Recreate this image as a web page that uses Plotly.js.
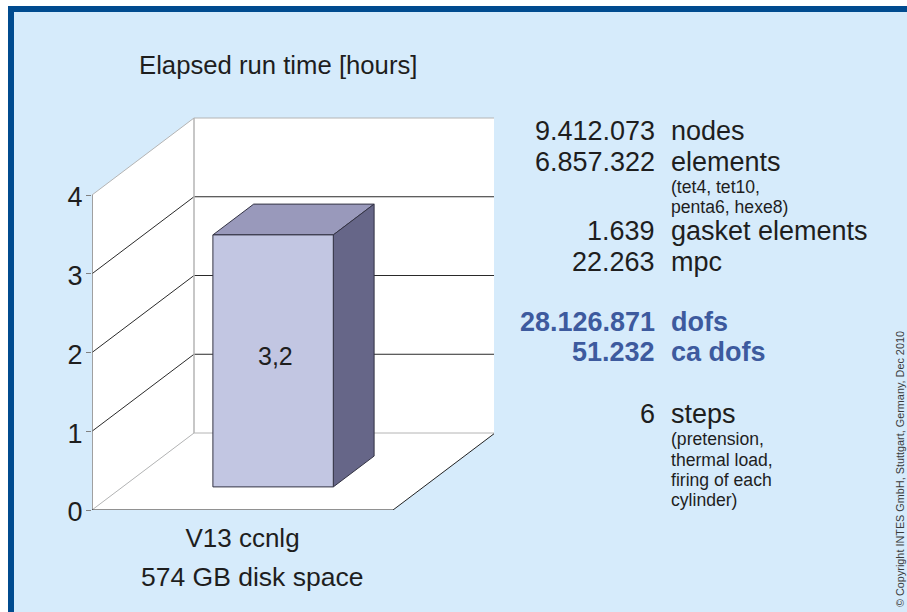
<!DOCTYPE html>
<html><head><meta charset="utf-8">
<script src="https://cdn.plot.ly/plotly-3.0.1.min.js"></script>
<style>html,body{margin:0;padding:0;background:#fff}#c{width:907px;height:612px}</style>
</head><body><div id="c"></div>
<script>
// ---- data ----
var categories = ['V13 ccnlg'];
var categoryNote = '574 GB disk space';
var values = [3.2];
var valueLabels = ['3,2'];
var yTicks = [0, 1, 2, 3, 4];
var statNumbers = ['9.412.073', '6.857.322', '1.639', '22.263'];
var statNames = ['nodes', 'elements', 'gasket elements', 'mpc'];
var dofNumbers = ['28.126.871', '51.232'];
var dofNames = ['dofs', 'ca dofs'];
var stepNumbers = ['6'];
var stepNames = ['steps'];
var elementNotes = ['(tet4, tet10,', 'penta6, hexe8)'];
var stepNotes = ['(pretension,', 'thermal load,', 'firing of each', 'cylinder)'];

// ---- page geometry ----
var W = 907, H = 612;
var m = {l: 92, r: 413, t: 117, b: 102};
var pw = W - m.l - m.r, ph = H - m.t - m.b;
var unitX = 301, unitY = 78.75;          // px per x unit / per value
var depthX = 102 / unitX, depthY = 77 / unitY;  // oblique projection of the depth axis
function px(v) { return (v - m.l) / pw; }
function py(v) { return 1 - (v - m.t) / ph; }
function P(x, y, z) { return [x + z * depthX, y + z * depthY]; }
function poly(pts, fill, line, lw) {
  var q = pts.map(function (p) { return P(p[0], p[1], p[2]); });
  return {type: 'scatter', mode: line ? 'lines' : 'none', x: q.map(function (a) { return a[0]; }),
    y: q.map(function (a) { return a[1]; }), fill: fill ? 'toself' : 'none', fillcolor: fill || undefined,
    line: {color: line || 'rgba(0,0,0,0)', width: lw || 1}, hoverinfo: 'skip', showlegend: false, cliponaxis: false};
}
var top4 = 4;
var traces = [];
// walls and floor
traces.push(poly([[0,0,1],[1,0,1],[1,top4,1],[0,top4,1],[0,0,1]], '#ffffff'));
traces.push(poly([[0,0,0],[0,0,1],[0,top4,1],[0,top4,0],[0,0,0]], '#ffffff'));
traces.push(poly([[0,0,0],[1,0,0],[1,0,1],[0,0,1],[0,0,0]], '#ffffff'));
// grid
yTicks.forEach(function (t) {
  var edge = (t === 0 || t === 4);
  traces.push(poly([[0,t,0],[0,t,1],[1,t,1]], null, edge ? '#b4b4b4' : '#2a2a2a', 1));
});
traces.push(poly([[0,0,1],[0,4,1]], null, '#b4b4b4', 1.5));
traces.push(poly([[1,0,1],[1,4,1]], null, '#b4b4b4', 1));
traces.push(poly([[0,0,0],[0,4,0]], null, '#808080', 1.5));
traces.push(poly([[0,0,0],[1,0,0]], null, '#222222', 1));
traces.push(poly([[1,0,0],[1,0,1]], null, '#222222', 1));
// x ticks
traces.push(poly([[0,0,0],[0,-0.07,0]], null, '#808080', 1));
traces.push(poly([[1,0,0],[1,-0.07,0]], null, '#808080', 1));
// bar
var x0 = 0.30, x1 = 0.70, z0 = 0.30, z1 = 0.70, v = values[0];
var edge = '#333344';
traces.push(poly([[x0,v,z0],[x1,v,z0],[x1,v,z1],[x0,v,z1],[x0,v,z0]], '#9999bb', edge, 1));
traces.push(poly([[x1,0,z0],[x1,0,z1],[x1,v,z1],[x1,v,z0],[x1,0,z0]], '#666688', edge, 1));
traces.push(poly([[x0,0,z0],[x1,0,z0],[x1,v,z0],[x0,v,z0],[x0,0,z0]], '#c2c6e2', edge, 1));

var ink = '#1e1e1e', blue = '#3d5a9e', font = 'Liberation Sans, Arial, sans-serif';
var ann = [];
var numX = 657, nameX = 669;
function note(xp, yp, text, size, color, anchor, weight) {
  ann.push({xref: 'paper', yref: 'paper', x: px(xp), y: py(yp), text: text, showarrow: false,
    xanchor: anchor, yanchor: 'middle', align: anchor === 'right' ? 'right' : 'left',
    font: {family: font, size: size, color: color, weight: weight || 400}});
}
var valPt = P(0.5, values[0] * 0.5, z0);
ann.push({xref: 'x', yref: 'y', x: valPt[0], y: valPt[1], text: valueLabels[0], showarrow: false,
  font: {family: font, size: 25, color: ink}, xanchor: 'center', yanchor: 'middle', xshift: 2, yshift: 5});
note(252, 577, categoryNote, 26.5, ink, 'center');
var statY = [131, 162, 231, 262];
statNumbers.forEach(function (s, i) { note(numX, statY[i], s, 27, ink, 'right'); note(nameX, statY[i], statNames[i], 27, ink, 'left'); });
var elY = [187, 207];
elementNotes.forEach(function (s, i) { note(nameX, elY[i], s, 17.6, ink, 'left'); });
var dofY = [322, 352];
dofNumbers.forEach(function (s, i) { note(numX, dofY[i], s, 27, blue, 'right', 700); note(nameX, dofY[i], dofNames[i], 27, blue, 'left', 700); });
note(numX, 414, stepNumbers[0], 27, ink, 'right'); note(nameX, 414, stepNames[0], 27, ink, 'left');
var stY = [439, 459.5, 480, 500];
stepNotes.forEach(function (s, i) { note(nameX, stY[i], s, 17.6, ink, 'left'); });
ann.push({xref: 'paper', yref: 'paper', x: px(892), y: py(609), text: '© Copyright INTES GmbH, Stuttgart, Germany, Dec 2010',
  textangle: -90, showarrow: false, xanchor: 'left', yanchor: 'bottom', font: {family: font, size: 10.85, color: '#3a3a3a'}});

var layout = {
  width: W, height: H, margin: m, autosize: false, showlegend: false,
  paper_bgcolor: '#ffffff', plot_bgcolor: 'rgba(0,0,0,0)',
  title: {text: 'Elapsed run time [hours]', x: px(139) , xref: 'paper', xanchor: 'left', y: 1 - 65 / H, yanchor: 'middle',
    font: {family: font, size: 25.7, color: ink}},
  xaxis: {range: [0, pw / unitX], showgrid: false, zeroline: false, showline: false, ticks: '',
    tickmode: 'array', tickvals: [0.5], ticktext: categories, ticklabelstandoff: 10,
    tickfont: {family: font, size: 26, color: ink}, automargin: false},
  yaxis: {range: [0, ph / unitY], showgrid: false, zeroline: false, showline: false, ticks: 'outside', ticklen: 5,
    tickcolor: '#808080', tickwidth: 1, tickmode: 'array', tickvals: yTicks, ticktext: yTicks.map(String), ticklabelstandoff: -2, ticklabelshift: 2,
    tickfont: {family: font, size: 27, color: ink}, automargin: false},
  shapes: [
    {type: 'rect', xref: 'paper', yref: 'paper', x0: px(8), x1: px(W), y0: py(H), y1: py(6), fillcolor: '#004b8f', line: {width: 0}, layer: 'below'},
    {type: 'rect', xref: 'paper', yref: 'paper', x0: px(14), x1: px(W), y0: py(H), y1: py(12), fillcolor: '#d6ebfb', line: {width: 0}, layer: 'below'}
  ],
  annotations: ann
};
Plotly.newPlot('c', traces, layout, {displayModeBar: false, staticPlot: true});
</script></body></html>
